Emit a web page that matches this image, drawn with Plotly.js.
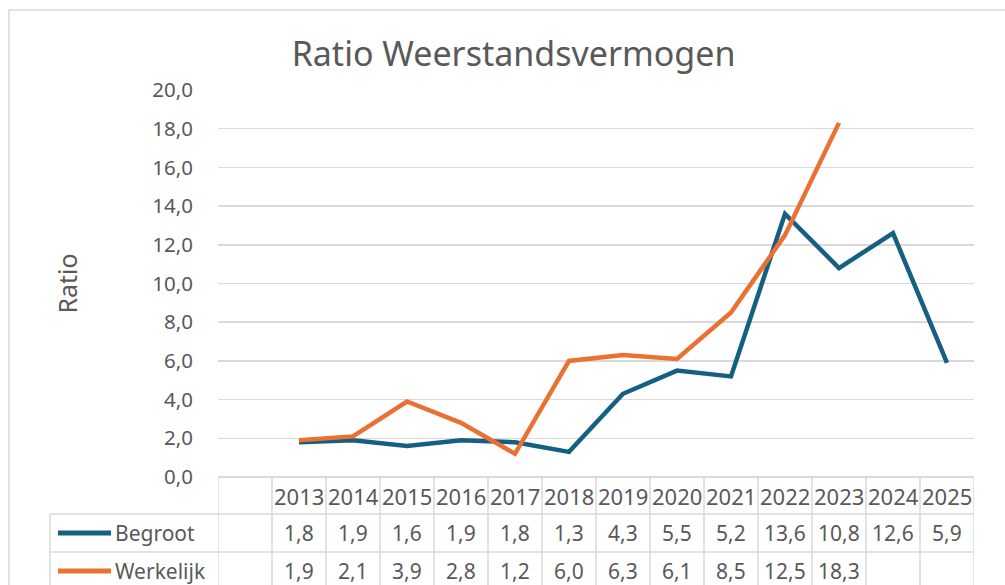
<!DOCTYPE html>
<html>
<head>
<meta charset="utf-8">
<script src="https://cdn.plot.ly/plotly-3.0.1.min.js"></script>
<style>html,body{margin:0;padding:0;background:#fff;}#chart{width:1005px;height:585px;}</style>
</head>
<body>
<div id="chart"></div>
<script>
const years = ['2013','2014','2015','2016','2017','2018','2019','2020','2021','2022','2023','2024','2025'];
const begroot = [1.8,1.9,1.6,1.9,1.8,1.3,4.3,5.5,5.2,13.6,10.8,12.6,5.9];
const werkelijk = [1.9,2.1,3.9,2.8,1.2,6.0,6.3,6.1,8.5,12.5,18.3,null,null];
const seriesNames = ['Begroot','Werkelijk'];
const yTicks = [0,2,4,6,8,10,12,14,16,18,20];

const W = 1005, H = 585;
const L = 218, R = 974, T = 90, B = 477;
const plotH = B - T, plotW = R - L;
const py = p => (B - p) / plotH;       // pixel y -> paper y
const px = p => (p - L) / plotW;       // pixel x -> paper x
const gray = '#d9d9d9';
const txt = '#595959';
const colors = ['#156082', '#E97132'];
const font = 'Noto Sans, Open Sans, sans-serif';

const xs = years.map((_, i) => i + 1);
const fmt = v => (v === null || v === undefined) ? '' : v.toFixed(1).replace('.', ',');

const traces = [begroot, werkelijk].map((vals, k) => ({
  type: 'scatter', mode: 'lines', x: xs, y: vals, name: seriesNames[k],
  line: {color: colors[k], width: 4.5}, connectgaps: false, hoverinfo: 'skip'
}));

const shapes = [];
const annotations = [];
// outer chart border
shapes.push({type:'rect', xref:'paper', yref:'paper', x0: px(9), x1: px(1020), y0: py(600), y1: py(10), line:{color:gray, width:1.5}});
// table rows
const rHeadTop = 477, rHeadBot = 514, r1Bot = 552, r2Bot = 590;
const legLeft = 50;
// horizontal lines
[rHeadBot, r1Bot].forEach(yy => shapes.push({type:'line', xref:'paper', yref:'paper', x0: px(legLeft), x1: px(R), y0: py(yy), y1: py(yy), line:{color:gray, width:1.5}}));
// vertical lines
for (let k = 0; k <= years.length + 1; k++) {
  shapes.push({type:'line', xref:'x', yref:'paper', x0: k - 0.5, x1: k - 0.5, y0: py(rHeadTop), y1: py(r2Bot), line:{color:gray, width:1.5}});
}
shapes.push({type:'line', xref:'paper', yref:'paper', x0: px(legLeft), x1: px(legLeft), y0: py(rHeadBot), y1: py(r2Bot), line:{color:gray, width:1.5}});
// header years
years.forEach((yr, i) => annotations.push({xref:'x', yref:'paper', x: i + 1, y: py((rHeadTop + rHeadBot) / 2), text: yr, showarrow:false, xanchor:'center', yanchor:'middle', font:{family:font, size:22, color:txt}}));
// values
[begroot, werkelijk].forEach((vals, k) => {
  const yc = k === 0 ? (rHeadBot + r1Bot) / 2 : (r1Bot + r2Bot) / 2;
  vals.forEach((v, i) => annotations.push({xref:'x', yref:'paper', x: i + 1, y: py(yc), text: fmt(v), showarrow:false, xanchor:'center', yanchor:'middle', font:{family:font, size:21, color:txt}}));
  shapes.push({type:'line', xref:'paper', yref:'paper', x0: px(58), x1: px(111), y0: py(yc), y1: py(yc), line:{color:colors[k], width:5}});
  annotations.push({xref:'paper', yref:'paper', x: px(113), y: py(yc), text: seriesNames[k], showarrow:false, xanchor:'left', yanchor:'middle', font:{family:font, size:21, color:txt}});
});

const layout = {
  width: W, height: H,
  margin: {l: L, r: W - R, t: T, b: H - B, pad: 0},
  paper_bgcolor: '#fff', plot_bgcolor: '#fff',
  separators: ',.',
  showlegend: false,
  title: {text: 'Ratio Weerstandsvermogen', font:{family:font, size:34, color:txt}, x: 0.511, xanchor:'center', y: 1 - 54 / H, yanchor:'middle'},
  xaxis: {range: [-0.5, years.length + 0.5], showgrid:false, showticklabels:false, zeroline:false, showline:false, ticks:'', fixedrange:true},
  yaxis: {range: [0, 20], tickvals: yTicks, tickformat: '.1f', showgrid: true, gridcolor: gray, gridwidth: 1.5,
          zeroline: true, zerolinecolor: gray, zerolinewidth: 1.5, showline:false,
          ticks:'outside', ticklen: 20, tickcolor:'rgba(0,0,0,0)',
          tickfont:{family:font, size:20.5, color:txt},
          title:{text:'Ratio', font:{family:font, size:25, color:txt}, standoff: 67}},
  shapes: shapes,
  annotations: annotations
};
Plotly.newPlot('chart', traces, layout, {staticPlot: true, displayModeBar: false});
</script>
</body>
</html>
